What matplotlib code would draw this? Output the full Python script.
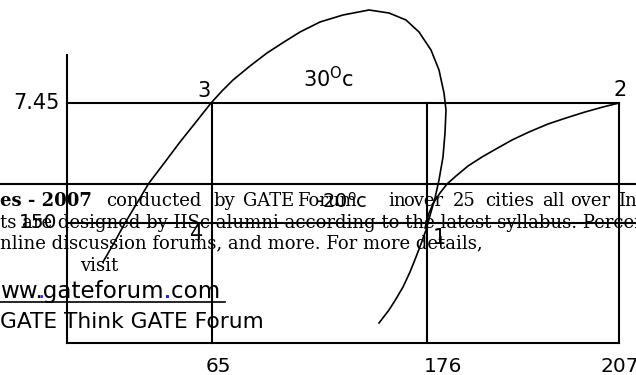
import numpy as np
import matplotlib
matplotlib.use("Agg")
import matplotlib.pyplot as plt

# p-h sketch (positions in picture units, the sketch is not to scale)
h_labels = ["65", "176", "207"]
p_labels = ["7.45", "150"]
state_labels = ["1", "2", "3", "4"]

# saturation dome
dome_x = [103, 114, 125, 137, 149, 165, 180, 196, 211, 222, 233, 250, 267, 284, 300, 320,
          343, 369, 389, 406, 419, 431, 439, 444, 446, 445, 443, 439, 435, 431, 426, 421,
          416, 410, 403, 396, 389, 379]
dome_y = [262, 243, 223, 203, 183, 162, 142, 122, 103, 91, 80, 66, 53, 42, 32, 22,
          15, 10, 13, 20, 32, 50, 70, 93, 110, 133, 157, 180, 198, 212, 230, 244,
          257, 272, 287, 299, 310, 323]

# compression 1-2
comp_x = [425, 429, 434, 440, 447, 456, 468, 482, 496, 512, 529, 548, 566, 585, 603, 619]
comp_y = [228, 213, 202, 193, 184, 176, 166, 157, 149, 140, 132, 124, 118, 112, 107, 103]

# background page text that overlaps the figure
line1_bold = "es - 2007"
line1_words = ["conducted", "by", "GATE", "Forum", "in", "over", "25", "cities", "all", "over", "In"]
line1_x = [106, 213, 243, 297, 388, 403, 453, 485, 542, 570, 618]
line2 = "ts are designed by IISc alumni according to the latest syllabus. Percen"
line3 = "nline discussion forums, and more. For more details,"
site = "ww.gateforum.com"

fig = plt.figure(figsize=(6.36, 3.75), dpi=100)
ax = fig.add_axes([0, 0, 1, 1])
ax.set_xlim(0, 636)
ax.set_ylim(375, 0)
ax.axis("off")

lw = 1.5
# box and pressure lines
ax.plot([67, 67], [55, 343], color="black", lw=lw)
ax.plot([67, 619], [343, 343], color="black", lw=lw)
ax.plot([67, 619], [103, 103], color="black", lw=lw)
ax.plot([67, 636], [223, 223], color="black", lw=lw)
ax.plot([0, 636], [184, 184], color="black", lw=lw)
for xv in [212, 427, 619]:
    ax.plot([xv, xv], [103, 343], color="black", lw=lw)

ax.plot(dome_x, dome_y, color="black", lw=1.2, solid_joinstyle="round")
ax.plot(comp_x, comp_y, color="black", lw=1.2, solid_joinstyle="round")

# page text
serif = "DejaVu Serif"
fs = 13
ax.text(0, 206, line1_bold, family=serif, fontsize=fs, fontweight="bold", va="baseline")
for w, xw in zip(line1_words, line1_x):
    ax.text(xw, 206, w, family=serif, fontsize=fs, va="baseline")
ax.text(0, 228, line2, family=serif, fontsize=fs, va="baseline")
ax.text(0, 248, line3, family=serif, fontsize=fs, va="baseline")
ax.text(80, 271, "visit", family=serif, fontsize=fs, va="baseline")

t_site = ax.text(0, 298, site, family="DejaVu Sans", fontsize=16.6, va="baseline")
ax.plot([0, 225], [302, 302], color="black", lw=1.2)
ax.text(0, 328, "GATE Think GATE Forum", family="DejaVu Sans", fontsize=15.7, va="baseline")

# blue dots in the link
renderer = fig.canvas.get_renderer()
for i, ch in enumerate(site):
    if ch == ".":
        probe = ax.text(0, 298, site[:i], family="DejaVu Sans", fontsize=16.6, va="baseline")
        xd = probe.get_window_extent(renderer).width
        probe.remove()
        ax.text(xd, 298, ".", family="DejaVu Sans", fontsize=16.6, va="baseline", color="#1f1fff")

# labels
sans = "DejaVu Sans"
ax.text(60, 103, p_labels[0], family=sans, fontsize=15, ha="right", va="center")
ax.text(38, 223, p_labels[1], family=sans, fontsize=14.5, ha="center", va="center")
for lab, xl in zip(h_labels, [218, 443, 620]):
    ax.text(xl, 366, lab, family=sans, fontsize=14.5, ha="center", va="center")
for lab, (xs, ys) in zip(state_labels, [(439, 238), (620, 90), (204, 91), (197, 234)]):
    ax.text(xs, ys, lab, family=sans, fontsize=15, ha="center", va="center")
ax.text(303, 87, r"30$^{\mathrm{O}}$c", family=sans, fontsize=15, va="baseline")
ax.text(315, 208, r"-20$^{\mathrm{o}}$c", family=sans, fontsize=14, va="baseline")

fig.savefig("out.png", dpi=100)
